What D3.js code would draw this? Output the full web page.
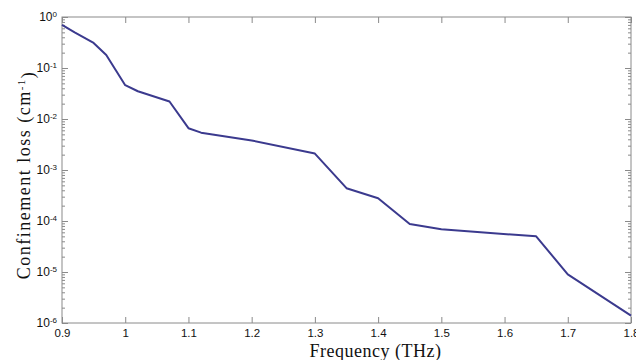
<!DOCTYPE html>
<html>
<head>
<meta charset="utf-8">
<script src="https://cdn.jsdelivr.net/npm/d3@7"></script>
<style>
  html, body { margin: 0; padding: 0; background: #fff; }
  svg { display: block; }
</style>
</head>
<body>
<svg id="chart" width="636" height="360"></svg>
<script>
const freq = [0.9, 0.92, 0.95, 0.97, 1.0, 1.02, 1.07, 1.1, 1.12, 1.2, 1.3, 1.35, 1.4, 1.45, 1.5, 1.65, 1.7, 1.8];
const loss = [0.70, 0.50, 0.31, 0.18, 0.046, 0.035, 0.022, 0.0066, 0.0054, 0.0038, 0.0021,
              0.00044, 0.00028, 8.7e-5, 6.9e-5, 5.0e-5, 9.0e-6, 1.4e-6];
const xTicks = [0.9, 1.0, 1.1, 1.2, 1.3, 1.4, 1.5, 1.6, 1.7, 1.8];
const yExps = [0, -1, -2, -3, -4, -5, -6];

const svg = d3.select("#chart");
const margin = { top: 17, right: 5, bottom: 37, left: 62 };
const width = 636, height = 360;
const innerWidth = width - margin.left - margin.right;
const innerHeight = height - margin.top - margin.bottom;

const x = d3.scaleLinear().domain([0.9, 1.8]).range([0, innerWidth]);
const y = d3.scaleLog().domain([1e-6, 1]).range([innerHeight, 0]);

const axisColor = "#8a8a8a";
const majors = yExps.map(e => Math.pow(10, e));
const minors = [];
yExps.slice(1).forEach(e => {
  for (let m = 2; m <= 9; m++) minors.push(m * Math.pow(10, e));
});

const g = svg.append("g").attr("transform", `translate(${margin.left},${margin.top})`);

const styleAxis = sel => {
  sel.select(".domain").remove();
  sel.selectAll(".tick line").attr("stroke", axisColor);
};

// minor ticks
g.append("g")
  .call(d3.axisLeft(y).tickValues(minors).tickSize(-3).tickFormat(""))
  .call(styleAxis);
g.append("g")
  .attr("transform", `translate(${innerWidth},0)`)
  .call(d3.axisRight(y).tickValues(minors).tickSize(-3).tickFormat(""))
  .call(styleAxis);

// major y ticks
g.append("g")
  .call(d3.axisLeft(y).tickValues(majors).tickSize(-6).tickPadding(5).tickFormat(() => "10"))
  .call(styleAxis)
  .call(s => {
    s.selectAll(".tick text")
      .attr("fill", "#111")
      .style("font", "12px 'Liberation Sans', Arial, sans-serif")
      .append("tspan")
      .attr("dy", "-0.55em")
      .style("font-size", "8px")
      .text(d => String(Math.round(Math.log10(d))));
  });
g.append("g")
  .attr("transform", `translate(${innerWidth},0)`)
  .call(d3.axisRight(y).tickValues(majors).tickSize(-6).tickFormat(""))
  .call(styleAxis);

// x ticks
g.append("g")
  .attr("transform", `translate(0,${innerHeight})`)
  .call(d3.axisBottom(x).tickValues(xTicks).tickSize(-6).tickPadding(4).tickFormat(d3.format("")))
  .call(styleAxis)
  .call(s => s.selectAll(".tick text")
    .attr("fill", "#111")
    .attr("dy", "0.9em")
    .style("font", "11.5px 'Liberation Sans', Arial, sans-serif"));
g.append("g")
  .call(d3.axisTop(x).tickValues(xTicks).tickSize(-6).tickFormat(""))
  .call(styleAxis);

// frame
g.append("rect")
  .attr("width", innerWidth)
  .attr("height", innerHeight)
  .attr("fill", "none")
  .attr("stroke", axisColor)
  .attr("stroke-width", 1);

// curve
const line = d3.line()
  .x((d, i) => x(freq[i]))
  .y(d => y(d));

g.append("path")
  .datum(loss)
  .attr("fill", "none")
  .attr("stroke", "#3b3a8e")
  .attr("stroke-width", 2)
  .attr("stroke-linejoin", "round")
  .attr("d", line);

// axis labels
svg.append("text")
  .attr("x", margin.left + innerWidth / 2 + 29)
  .attr("y", 357)
  .attr("text-anchor", "middle")
  .attr("fill", "#111")
  .style("font", "18px 'Liberation Serif', 'Times New Roman', serif")
  .style("letter-spacing", "0.5px")
  .text("Frequency (THz)");

const yl = svg.append("text")
  .attr("transform", `translate(30,${margin.top + innerHeight / 2 + 5}) rotate(-90)`)
  .attr("text-anchor", "middle")
  .attr("fill", "#111")
  .style("font", "18px 'Liberation Serif', 'Times New Roman', serif")
  .style("letter-spacing", "1.5px");
yl.append("tspan").text("Confinement loss (cm");
yl.append("tspan").attr("dy", "-0.5em").style("font-size", "11px").text("-1");
yl.append("tspan").attr("dy", "0.5em").text(")");
</script>
</body>
</html>
